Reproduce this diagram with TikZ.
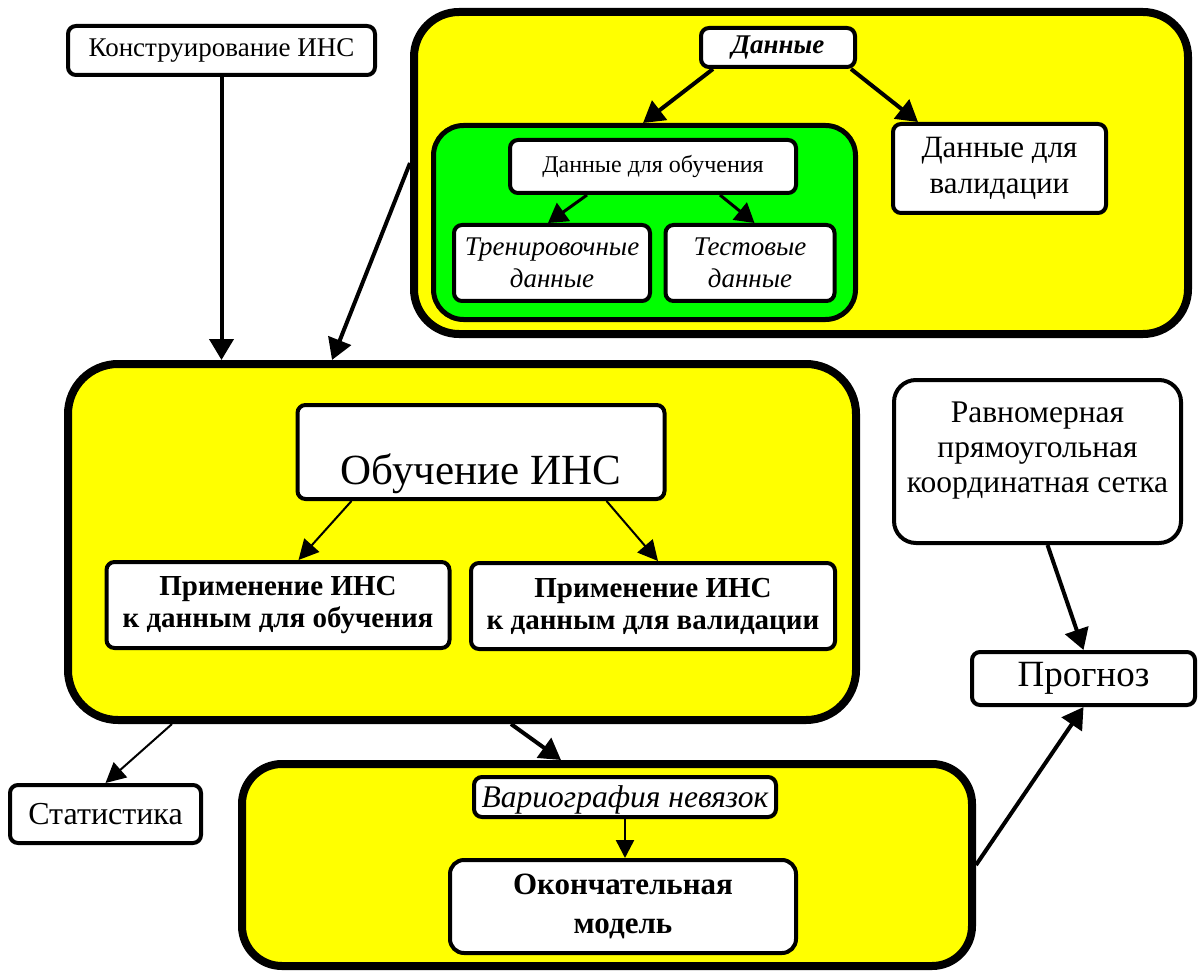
\documentclass[tikz,border=0pt]{standalone}
\usepackage{fontspec}
\setmainfont{Liberation Serif}
\usetikzlibrary{arrows.meta,calc}
\definecolor{yel}{RGB}{255,255,0}
\definecolor{grn}{RGB}{0,255,0}
\newcommand{\fsz}[2]{\fontsize{#1}{#2}\selectfont}
\tikzset{
  wbox/.style={draw, line width=4pt, rounded corners=8pt, fill=white, inner sep=0pt, align=center},
  ybox/.style={draw, line width=8pt, rounded corners=45pt, fill=yel, inner sep=0pt},
  gbox/.style={draw, line width=5pt, rounded corners=30pt, fill=grn, inner sep=0pt},
  bigarrow/.style={line width=4pt, -{Triangle[length=21pt,width=24pt]}},
  midarrow/.style={line width=3pt, -{Triangle[length=19pt,width=22pt]}},
  thinarrow/.style={line width=2pt, -{Triangle[length=20pt,width=20pt]}},
}
\begin{document}
\begin{tikzpicture}[x=1pt,y=-1pt]
\useasboundingbox[fill=white] (0,0) rectangle (1198,973);

% big containers
\node[ybox, minimum width=774pt, minimum height=322pt] (topbox) at (801,173) {};
\node[gbox, minimum width=422pt, minimum height=194pt] (green) at (644.5,222.5) {};
\node[ybox, minimum width=788pt, minimum height=356pt, rounded corners=50pt] (mid) at (462,542) {};
\node[ybox, minimum width=730pt, minimum height=202pt, rounded corners=40pt] (bot) at (607,865) {};

% white boxes
\node[wbox, minimum width=307pt, minimum height=49pt, font=\fsz{27}{31}] (konstr) at (221.5,50.5) {Конструирование ИНС};
\node[wbox, minimum width=154pt, minimum height=39pt, font=\fsz{27}{30}\bfseries\itshape] (dan) at (778,47.5) {Данные};
\node[wbox, minimum width=286pt, minimum height=53pt, font=\fsz{24}{28}] (dlo) at (653,166.5) {Данные для обучения};
\node[wbox, minimum width=196pt, minimum height=76pt, font=\fsz{27}{32}\itshape] (train) at (552,263) {Тренировочные\\данные};
\node[wbox, minimum width=169pt, minimum height=76pt, font=\fsz{27}{32}\itshape] (test) at (750,263) {Тестовые\\данные};
\node[wbox, minimum width=213pt, minimum height=89pt, font=\fsz{31}{36}] (val) at (999.5,168.5) {Данные для\\валидации};
\node[wbox, minimum width=367pt, minimum height=94pt,
      label={[font=\fsz{43}{50}, yshift=-22pt]center:Обучение ИНС}] (learn) at (481,452) {};
\node[wbox, minimum width=343pt, minimum height=86pt, font=\fsz{29}{32}\bfseries] (appl1) at (278,605) {Применение ИНС\\к данным для обучения};
\node[wbox, minimum width=364pt, minimum height=86pt, font=\fsz{29}{32}\bfseries] (appl2) at (653,606) {Применение ИНС\\к данным для валидации};
\node[wbox, minimum width=287pt, minimum height=163pt, rounded corners=22pt,
      label={[font=\fsz{31.5}{35}, align=center, yshift=11pt]center:Равномерная\\прямоугольная\\координатная сетка}] (grid) at (1037.5,461.5) {};
\node[wbox, minimum width=223pt, minimum height=53pt, font=\fsz{37}{40}] (prog) at (1083.5,678.5) {Прогноз};
\node[wbox, minimum width=191pt, minimum height=58pt, font=\fsz{32}{36}] (stat) at (105.5,814) {Статистика};
\node[wbox, minimum width=302pt, minimum height=40pt,
      label={[font=\fsz{31.5}{34}\itshape, yshift=-3pt]center:Вариография невязок}] (var) at (625,797) {};
\node[wbox, minimum width=346pt, minimum height=93pt, rounded corners=14pt, font=\fsz{31}{39}\bfseries] (fin) at (623,906.5) {Окончательная\\модель};

% connectors
\draw[bigarrow] (konstr.south) -- (konstr.south |- mid.north);
\draw[bigarrow] ($(topbox.west)+(0,-10)$) -- ($(mid.north west)+(268,0)$);
\draw[bigarrow] ($(dan.south west)+(14,0)$) -- ($(green.north west)+(212,0)$);
\draw[bigarrow] ($(dan.south east)+(-6,0)$) -- ($(val.north west)+(27,0)$);
\draw[midarrow] ($(dlo.south west)+(79,0)$) -- ($(train.north west)+(96,0)$);
\draw[midarrow] ($(dlo.south west)+(212,0)$) -- ($(test.north west)+(91,0)$);
\draw[thinarrow] ($(learn.south west)+(56,0)$) -- ($(appl1.north west)+(194,0)$);
\draw[thinarrow] ($(learn.south west)+(311,0)$) -- ($(appl2.north west)+(189,0)$);
\draw[thinarrow] ($(mid.south west)+(108,0)$) -- (stat.north);
\draw[bigarrow] ($(mid.south west)+(447,0)$) -- ($(bot.north west)+(323,0)$);
\draw[bigarrow] (bot.east) -- (prog.south);
\draw[bigarrow] ($(grid.south)+(10,0)$) -- (prog.north);
\draw[line width=2.5pt, -{Triangle[length=18pt,width=18pt]}] (var.south) -- (var.south |- fin.north);
\end{tikzpicture}
\end{document}
